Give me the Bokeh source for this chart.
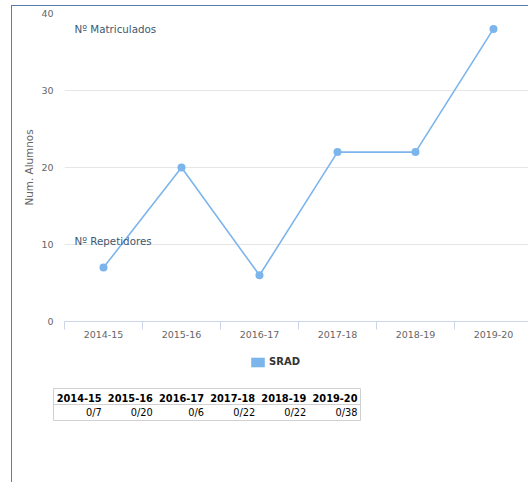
from bokeh.plotting import figure
from bokeh.models import (Range1d, FixedTicker, Legend, LegendItem, Label,
                          Span, Spacer)
from bokeh.layouts import column, row
from bokeh.embed import file_html
from bokeh.resources import INLINE
from bokeh.core.properties import value

# ---- data ----
categories = ["2014-15", "2015-16", "2016-17", "2017-18", "2018-19", "2019-20"]
matriculados = [7, 20, 6, 22, 22, 38]
repetidores = [0, 0, 0, 0, 0, 0]
series_name = "SRAD"
y_ticks = [0, 10, 20, 30, 40]
y_title = "Num. Alumnos"
label_matric = "Nº Matriculados"
label_repet = "Nº Repetidores"

FONT = "DejaVu Sans"
LINE_COLOR = "#7cb5ec"
BORDER = "#5b7caa"

W = 516          # width right of the container border
H1 = 348         # chart figure height
HL = 30          # legend strip height
H2 = 98          # table figure height

centers = [i + 0.5 for i in range(len(categories))]
bounds = [float(i) for i in range(len(categories) + 1)]

p = figure(width=W, height=H1, output_backend="svg", toolbar_location=None,
           x_range=Range1d(0, 5.949), y_range=Range1d(0, 40),
           min_border_left=52, min_border_right=0, min_border_top=7,
           min_border_bottom=H1 - 315)
p.frame_align = False
p.outline_line_color = None
p.background_fill_color = "white"
p.border_fill_color = "white"

# grid
p.xgrid.grid_line_color = None
p.ygrid.grid_line_color = "#e6e6e6"
p.ygrid.ticker = FixedTicker(ticks=y_ticks)

# x axis
xa = p.xaxis[0]
xa.ticker = FixedTicker(ticks=centers, minor_ticks=bounds)
xa.major_label_overrides = {c: lab for c, lab in zip(centers, categories)}
xa.axis_line_color = "#ccd6eb"
xa.major_tick_line_color = None
xa.major_tick_out = 0
xa.major_tick_in = 0
xa.minor_tick_line_color = "#ccd6eb"
xa.minor_tick_out = 8
xa.minor_tick_in = 0
xa.major_label_standoff = 1
xa.major_label_text_font = FONT
xa.major_label_text_font_size = "9.5px"
xa.major_label_text_color = "#666666"

# y axis
ya = p.yaxis[0]
ya.ticker = FixedTicker(ticks=y_ticks)
ya.axis_line_color = None
ya.major_tick_line_color = None
ya.minor_tick_line_color = None
ya.major_tick_out = 0
ya.major_tick_in = 0
ya.major_label_standoff = 11
ya.major_label_text_font = FONT
ya.major_label_text_font_size = "9.5px"
ya.major_label_text_color = "#666666"
ya.axis_label = y_title
ya.axis_label_text_font = FONT
ya.axis_label_text_font_size = "10.4px"
ya.axis_label_text_font_style = "normal"
ya.axis_label_text_color = "#666666"
ya.axis_label_standoff = 3

# series
p.line(centers, matriculados, line_color=LINE_COLOR, line_width=1.6)
p.scatter(centers, matriculados, size=8, fill_color=LINE_COLOR,
          line_color=None)

for txt, yv in [(label_matric, 38.05), (label_repet, 10.4)]:
    p.add_layout(Label(x=0.128, y=yv, text=txt, text_font=FONT,
                       text_font_size="10.3px", text_color="#3E576F",
                       text_baseline="middle", text_align="left"))

# ---- legend strip ----
lf = figure(width=W, height=HL, output_backend="svg", toolbar_location=None,
            x_range=Range1d(0, 1), y_range=Range1d(0, 1),
            x_axis_type=None, y_axis_type=None,
            min_border_left=0, min_border_right=0, min_border_top=0,
            min_border_bottom=0)
lf.frame_align = False
lf.grid.visible = False
lf.outline_line_color = None
# zero-area swatch renderer, used only to give the legend its colour box
legend_glyph = lf.quad(left=[0], right=[0], top=[0], bottom=[0],
                       fill_color=LINE_COLOR, line_color=None)
legend = Legend(items=[LegendItem(label=series_name, renderers=[legend_glyph])],
                location=(237, 16.5), orientation="horizontal",
                glyph_width=17, glyph_height=12, label_standoff=3,
                padding=0, margin=0, spacing=0, border_line_color=None,
                background_fill_alpha=0, label_text_font=FONT,
                label_text_font_size="10px", label_text_font_style="bold",
                label_text_color="#333333", label_height=10)
lf.add_layout(legend, "center")

# ---- table figure ----
t = figure(width=W, height=H2, output_backend="svg", toolbar_location=None,
           x_range=Range1d(0, len(categories)), y_range=Range1d(0, 2),
           x_axis_type=None, y_axis_type=None,
           min_border_left=41, min_border_right=168, min_border_top=4,
           min_border_bottom=H2 - 4 - 32)
t.frame_align = False
t.grid.visible = False
t.outline_line_color = "#d0d0d0"
t.outline_line_width = 1
t.add_layout(Span(location=1, dimension="width", line_color="#d0d0d0",
                  line_width=1))
col_right = [i + 1 for i in range(len(categories))]
t.text(x=col_right, y=[1.5] * len(categories), text=categories,
       text_align="right", text_baseline="middle", x_offset=-3, y_offset=1,
       text_font=value(FONT), text_font_size="9.8px",
       text_font_style="bold", text_color="#000000")
cells = [f"{r}/{m}" for r, m in zip(repetidores, matriculados)]
t.text(x=col_right, y=[0.5] * len(categories), text=cells,
       text_align="right", text_baseline="middle", x_offset=-3, y_offset=0,
       text_font=value(FONT), text_font_size="9.8px",
       text_color="#000000")

# container border (left + top lines)
top_bar = Spacer(width=W, height=1, styles={"background-color": BORDER})
left_bar = Spacer(width=1, height=482 - 5, styles={"background-color": BORDER})
inner = column(top_bar, p, lf, t, spacing=0)
body = row(Spacer(width=11, height=10), left_bar, inner, spacing=0)
layout = column(Spacer(width=10, height=5), body, spacing=0)

open("out.html", "w").write(file_html(layout, INLINE))
